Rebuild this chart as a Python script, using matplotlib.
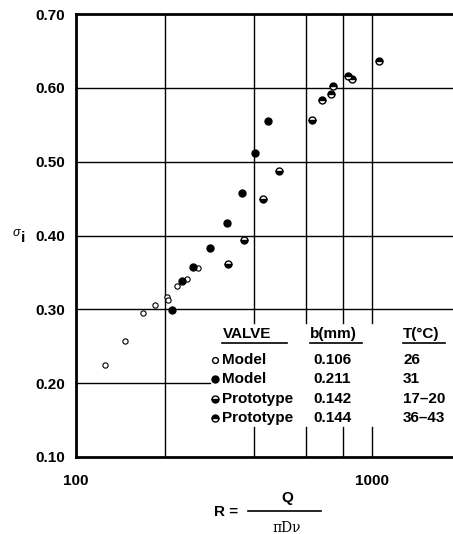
import numpy as np
import matplotlib.pyplot as plt
from matplotlib.lines import Line2D

plt.rcParams['font.family'] = ['Liberation Sans', 'DejaVu Sans']

# data
model_open_R = [125, 146, 168, 185, 203, 205, 219, 237, 258]
model_open_s = [0.225, 0.257, 0.295, 0.306, 0.317, 0.313, 0.332, 0.341, 0.356]
model_fill_R = [211, 229, 248, 283, 324, 365, 402, 446]
model_fill_s = [0.299, 0.339, 0.357, 0.383, 0.417, 0.457, 0.512, 0.555]
proto1_R = [327, 371, 427, 484, 629]
proto1_s = [0.362, 0.394, 0.449, 0.488, 0.557]
proto2_R = [676, 729, 736, 832, 858, 1059]
proto2_s = [0.584, 0.591, 0.603, 0.616, 0.612, 0.637]

legend_valve = ['Model', 'Model', 'Prototype', 'Prototype']
legend_b = ['0.106', '0.211', '0.142', '0.144']
legend_T = ['26', '31', '17\u201320', '36\u201343']

W, H = 453, 534
fig = plt.figure(figsize=(W / 100, H / 100), dpi=100)
ax = fig.add_axes([76 / W, 1 - 457 / H, 385 / W, 443 / H])
ax.set_xscale('log')
ax.set_xlim(100, 2000)
ax.set_ylim(0.10, 0.70)

def fx(px):
    return px / W

def fy(py):
    return 1 - py / H

# grid lines, with a gap where the key sits
gk = dict(color='black', lw=1.0, zorder=1)
for yv in [0.3, 0.4, 0.5, 0.6]:
    ax.plot([100, 2000], [yv, yv], **gk)
ax.plot([100, 284], [0.2, 0.2], **gk)
ax.plot([200, 200], [0.1, 0.7], **gk)
for xv in [400, 600, 800, 1000]:
    ax.plot([xv, xv], [0.281, 0.7], **gk)
    ax.plot([xv, xv], [0.1, 0.140], **gk)

for s in ['left', 'bottom', 'top']:
    ax.spines[s].set_linewidth(2)
ax.spines['right'].set_visible(False)
ax.tick_params(which='both', length=0)
ax.tick_params(axis='y', pad=8)
ax.tick_params(axis='x', pad=12)
ax.minorticks_off()
ax.set_yticks([0.1, 0.2, 0.3, 0.4, 0.5, 0.6, 0.7])
ax.set_yticklabels(['0.10', '0.20', '0.30', '0.40', '0.50', '0.60', '0.70'],
                   fontsize=11, fontweight='bold')
ax.set_xticks([100, 1000])
ax.set_xticklabels(['100', '1000'], fontsize=11, fontweight='bold')

ax.plot(model_open_R, model_open_s, 'o', ms=3.8, mfc='white', mec='black', mew=0.8, zorder=3)
ax.plot(model_fill_R, model_fill_s, 'o', ms=5, color='black', zorder=3)
ax.plot(proto1_R, proto1_s, 'o', ms=5, fillstyle='bottom', mfc='black',
        mfcalt='white', mec='black', mew=1, zorder=3)
ax.plot(proto2_R, proto2_s, 'o', ms=5, fillstyle='top', mfc='black',
        mfcalt='white', mec='black', mew=1, zorder=3)

# key, drawn as text
tk = dict(fontsize=11, fontweight='bold', va='center', transform=fig.transFigure)
fig.text(fx(223), fy(334), 'VALVE', **tk)
fig.text(fx(310), fy(334), 'b(mm)', **tk)
fig.text(fx(403), fy(334), 'T(\u00b0C)', **tk)
for x0, x1 in [(222, 287), (310, 362), (403, 445)]:
    fig.add_artist(Line2D([fx(x0), fx(x1)], [fy(343), fy(343)], color='black', lw=1.2))

rows = [360, 379, 399, 418]
styles = [dict(ms=4.2, mfc='white', mec='black', mew=1),
          dict(ms=5, color='black'),
          dict(ms=5, fillstyle='bottom', mfc='black', mfcalt='white', mec='black'),
          dict(ms=5, fillstyle='top', mfc='black', mfcalt='white', mec='black')]
for py, name, b, t, st in zip(rows, legend_valve, legend_b, legend_T, styles):
    fig.add_artist(Line2D([fx(215)], [fy(py)], marker='o', ls='none', **st))
    fig.text(fx(222), fy(py), name, **tk)
    fig.text(fx(313), fy(py), b, **tk)
    fig.text(fx(403), fy(py), t, **tk)

# axis labels
fig.text(fx(13), fy(233), '\u03c3', fontsize=9, style='italic', va='center')
fig.text(fx(21), fy(238), 'i', fontsize=11, fontweight='bold', va='center')
fig.text(fx(238), fy(512), 'R =', fontsize=11, fontweight='bold', ha='right', va='center')
fig.add_artist(Line2D([fx(248), fx(321)], [fy(511), fy(511)], color='black', lw=1.2))
fig.text(fx(287), fy(498), 'Q', fontsize=11, fontweight='bold', ha='center', va='center')
fig.text(fx(287), fy(528), '\u03c0D\u03bd', fontsize=10, ha='center', va='center',
         family=['DejaVu Serif'])

fig.savefig('out.png', dpi=100)
